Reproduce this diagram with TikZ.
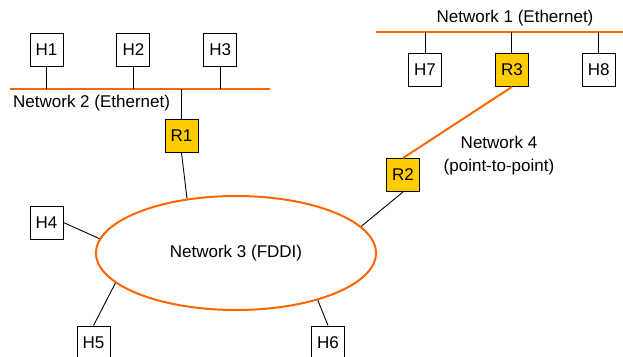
\documentclass[tikz,border=0pt]{standalone}
\usepackage{fontspec}
\setmainfont{Liberation Sans}
\usepackage{xcolor}
\usetikzlibrary{positioning, shapes.geometric}

\definecolor{netorange}{HTML}{FF6600}
\definecolor{routeryellow}{HTML}{FFCC00}

\begin{document}
\begin{tikzpicture}[x=1pt, y=-1pt,
  host/.style={rectangle, draw=black, line width=0.9pt, minimum size=33pt, inner sep=0pt, font=\fontsize{17}{20}\selectfont},
  router/.style={host, fill=routeryellow},
  bus/.style={draw=netorange, line width=2pt},
  stub/.style={draw=black, line width=0.9pt},
  nettext/.style={inner sep=0pt, font=\fontsize{17}{23}\selectfont},
  ring/.style={ellipse, draw=netorange, line width=2pt, minimum width=280pt, minimum height=114pt, inner sep=0pt, font=\fontsize{17}{20}\selectfont},
  node distance=53pt]

      \clip (0,0) rectangle (623,356);

      % Netz 2 (Ethernet)
      \coordinate (bus2w) at (10,89);
      \coordinate (bus2e) at (270,89);
      \draw[bus] (bus2w) -- (bus2e);
      \node[host] (H1) at (46.5,50) {H1};
      \node[host, right=of H1] (H2) {H2};
      \node[host, right=of H2] (H3) {H3};
      \node[nettext, anchor=west] (lbl2) at (13,103) {Network 2 (Ethernet)};

      % Netz 1 (Ethernet)
      \coordinate (bus1w) at (376,32);
      \coordinate (bus1e) at (623,32);
      \draw[bus] (bus1w) -- (bus1e);
      \node[host] (H7) at (425,70) {H7};
      \node[router, right=of H7] (R3) {R3};
      \node[host, right=of R3] (H8) {H8};
      \node[nettext] (lbl1) at (515,18) {Network 1 (Ethernet)};

      % Router
      \node[router] (R1) at (181.5,136) {R1};
      \node[router] (R2) at (403,175) {R2};
      \node[nettext, align=center] (lbl4) at (499,156) {Network 4\\(point-to-point)};

      % Netz 3 (FDDI)
      \node[ring] (net3) at (236,253) {Network 3 (FDDI)};
      \node[host] (H4) at (46.5,222.5) {H4};
      \node[host] (H5) at (93.5,342.5) {H5};
      \node[host] (H6) at (328,342.5) {H6};

      % Anschluesse an die Busse
      \draw[stub] (H1.south) -- (H1.south |- bus2w);
      \draw[stub] (H2.south) -- (H2.south |- bus2w);
      \draw[stub] (H3.south) -- (H3.south |- bus2w);
      \draw[stub] (R1.north) -- (R1.north |- bus2w);
      \draw[stub] (H7.north) -- (H7.north |- bus1w);
      \draw[stub] (R3.north) -- (R3.north |- bus1w);
      \draw[stub] (H8.north) -- (H8.north |- bus1w);

      % Punkt-zu-Punkt
      \draw[bus] (R3.south) -- (R2.north);

      % Anschluesse an den Ring
      \draw[stub] (R1.south) -- (net3.132);
      \draw[stub] (R2.south) -- (net3.12);
      \draw[stub] (H4.east) -- (net3.174);
      \draw[stub] (H5.north) -- (net3.194);
      \draw[stub] (H6.north) -- (net3.330);

\end{tikzpicture}
\end{document}
